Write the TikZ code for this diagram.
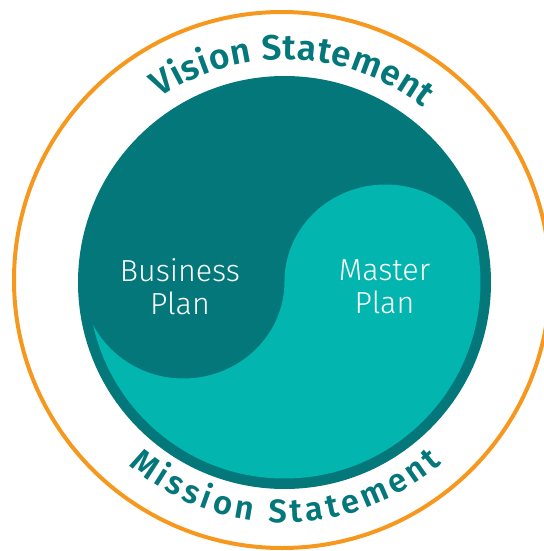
\documentclass[tikz,border=0pt]{standalone}
\usepackage{fontspec}
\setmainfont{Fira Sans}
\newfontfamily\arcfont{Fira Sans SemiBold}
\newfontfamily\thinfont{Fira Sans Light}
\usetikzlibrary{decorations.text}
\definecolor{tealdark}{HTML}{03777A}
\definecolor{teallight}{HTML}{02B5AE}
\definecolor{ringorange}{HTML}{F7981E}
\tikzset{
  plantext/.style={text=white, align=center, font=\thinfont\fontsize{26}{28.5}\selectfont},
}
\begin{document}
\begin{tikzpicture}[x=0.03cm, y=0.03cm]
        \useasboundingbox (-284.5,-268.5) rectangle (259.5,282.5);

        \draw[ringorange, line width=4*0.03cm] (-2.5,2.5) circle (268);

        \fill[tealdark] (0,0) circle (206.5);

        \begin{scope}
        \clip (0,0) circle (196);
        \fill[teallight] (-260,1) -- (-202,1) arc[start angle=180, end angle=360, x radius=101, y radius=97] arc[start angle=180, end angle=0, x radius=101, y radius=97] -- (260,1) -- (260,-260) -- (-260,-260) -- cycle;
        \end{scope}

        \node[plantext] (business) at (-104.5,-4) {Business\\Plan};
        \node[plantext] (master) at (100,-4) {Master\\Plan};

        \path[decorate, decoration={text along path, text align=fit to path, text color=tealdark,
          text={|\arcfont\fontsize{30}{30}\selectfont|Vision Statement}}]
          (124:223) arc[start angle=124, end angle=51.5, radius=223];
        \path[decorate, decoration={text along path, text align=fit to path, text color=tealdark,
          text={|\arcfont\fontsize{28}{28}\selectfont|Mission Statement}}]
          (-130.5:240) arc[start angle=-130.5, end angle=-49, radius=240];

        \end{tikzpicture}
\end{document}
